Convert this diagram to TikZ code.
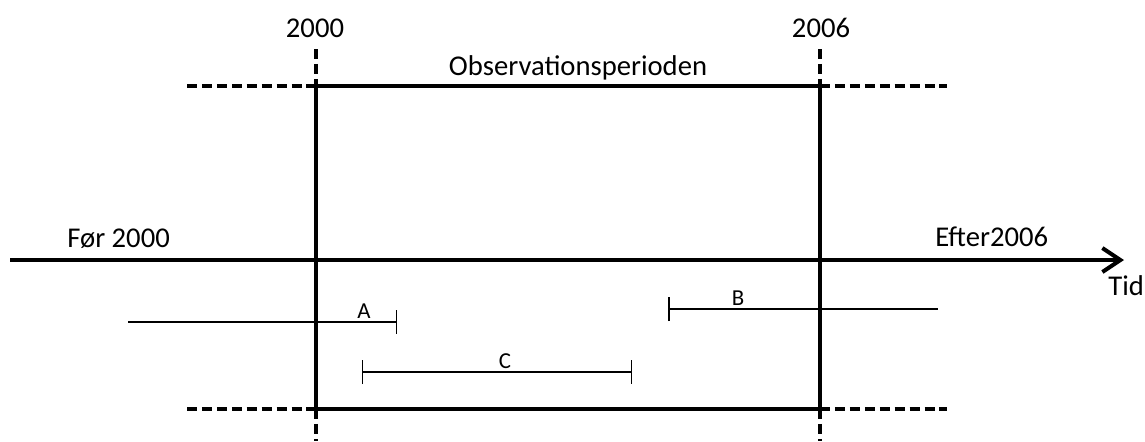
\documentclass[tikz,border=0pt]{standalone}
\usepackage{fontspec}
\setmainfont{Carlito}
\usetikzlibrary{arrows.meta,positioning}

\tikzset{
	thickline/.style={line width=2.3pt},
	dashline/.style={line width=2.3pt, dash pattern=on 5.7pt off 2.8pt},
	thinline/.style={line width=0.85pt},
	bigtext/.style={font=\fontsize{16.3}{19}\selectfont, inner sep=0pt},
	smalltext/.style={font=\fontsize{13}{15}\selectfont, inner sep=0pt}
}

\begin{document}
\begin{tikzpicture}[x=0.02cm, y=-0.02cm]
	\useasboundingbox (0,0) rectangle (1145,441);
	% observation period
	\coordinate (tl) at (316,86);
	\coordinate (tr) at (820,86);
	\coordinate (bl) at (316,409);
	\coordinate (br) at (820,409);
	\draw [thickline] (tl) -- (tr) -- (br) -- (bl) -- cycle;
	\draw [dashline] (187,86) -- (tl);
	\draw [dashline] (tr) -- (947,86);
	\draw [dashline] (187,409) -- (bl);
	\draw [dashline] (br) -- (947,409);
	\draw [dashline] (316,49) -- (tl);
	\draw [dashline] (820,49) -- (tr);
	\draw [dashline] (bl) -- (316,441);
	\draw [dashline] (br) -- (820,441);
	% time axis
	\coordinate (t0) at (10,260);
	\coordinate (t1) at (1124,260);
	\draw [thickline, -{Straight Barb[length=3.6mm, width=4.8mm]}] (t0) -- (t1);
	\node [bigtext, anchor=base] (yr2000) at (315,37) {2000};
	\node [bigtext, anchor=base] (yr2006) at (821,37) {2006};
	\node [bigtext, anchor=base] (obs) at (578,75) {Observationsperioden};
	\node [bigtext, anchor=base west] (foer) at (67,247) {Før 2000};
	\node [bigtext, anchor=base west] (efter) at (935,246) {Efter2006};
	\node [bigtext, anchor=base west] (tid) at (1108,295) {Tid};
	% intervals
	\draw [thinline, -{Bar[width=4.8mm]}] (128,322) -- (397,322);
	\node [smalltext, anchor=base] (labA) at (364,318) {A};
	\draw [thinline, {Bar[width=4.8mm]}-] (668,309) -- (938,309);
	\node [smalltext, anchor=base] (labB) at (738,305) {B};
	\draw [thinline, {Bar[width=4.8mm]}-{Bar[width=4.8mm]}] (362,372) -- (632,372);
	\node [smalltext, anchor=base] (labC) at (505,368) {C};
\end{tikzpicture}
\end{document}
